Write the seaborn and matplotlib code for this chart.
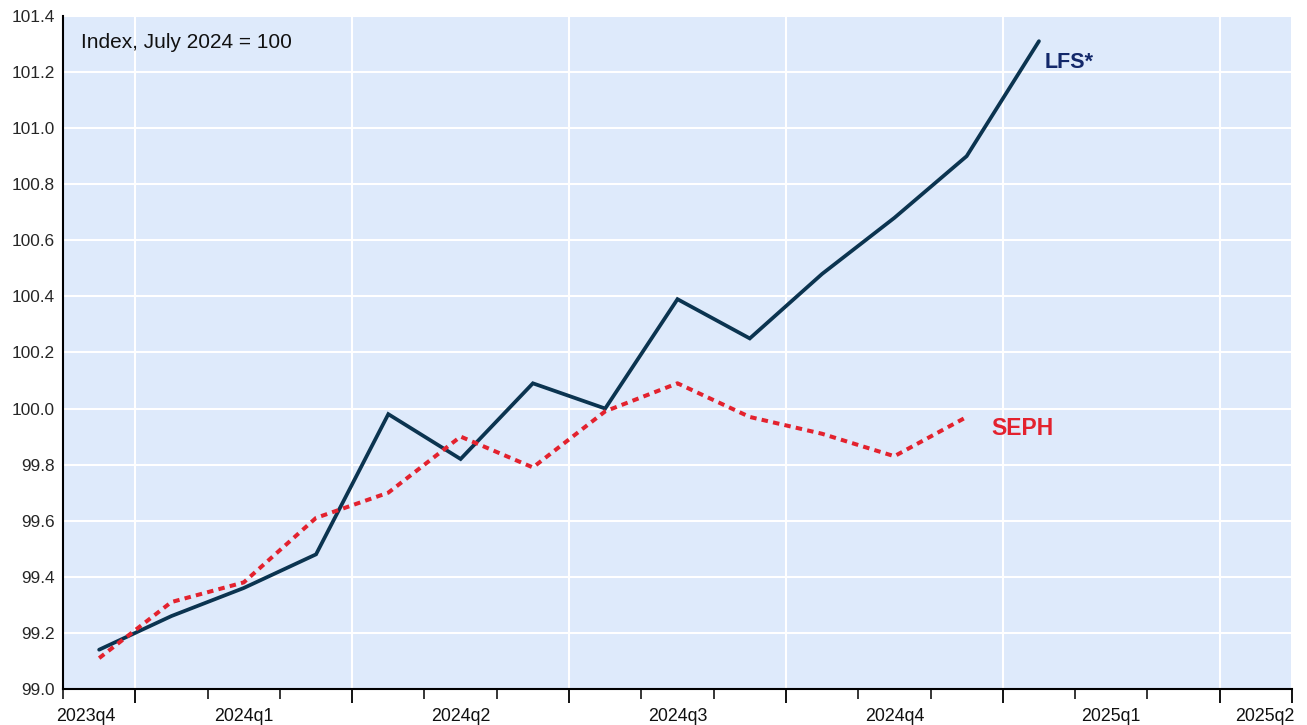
import numpy as np
import pandas as pd
import matplotlib
matplotlib.use("Agg")
import matplotlib.pyplot as plt
import matplotlib.transforms as mtransforms
import seaborn as sns

# ---------------------------------------------------------------
# Data (monthly, Dec 2023 .. Jan 2025), Index July 2024 = 100
# ---------------------------------------------------------------
months = ["2023-12", "2024-01", "2024-02", "2024-03", "2024-04", "2024-05",
          "2024-06", "2024-07", "2024-08", "2024-09", "2024-10", "2024-11",
          "2024-12", "2025-01"]
lfs = [99.14, 99.26, 99.36, 99.48, 99.98, 99.82, 100.09, 100.00,
       100.39, 100.25, 100.48, 100.68, 100.90, 101.31]
seph = [99.11, 99.31, 99.38, 99.61, 99.70, 99.90, 99.79, 99.99,
        100.09, 99.97, 99.91, 99.83, 99.97]

quarter_labels = ["2023q4", "2024q1", "2024q2", "2024q3", "2024q4", "2025q1", "2025q2"]
yticks = [99.0, 99.2, 99.4, 99.6, 99.8, 100.0, 100.2, 100.4, 100.6, 100.8,
          101.0, 101.2, 101.4]

LFS_COLOR = "#0b3450"
LFS_LABEL_COLOR = "#13286a"
SEPH_COLOR = "#e3222e"
BG = "#deeafb"

# month axis: 0 = start of Dec 2023, points drawn mid-month
origin = pd.Period("2023-12", freq="M")
def month_pos(m):
    return (pd.Period(m, freq="M") - origin).n + 0.5

df = pd.DataFrame({"month": months, "LFS*": lfs,
                   "SEPH": seph + [np.nan] * (len(lfs) - len(seph))})
df["x"] = [month_pos(m) for m in df["month"]]

sns.set_theme(style="white")
plt.rcParams["font.family"] = ["Liberation Sans", "DejaVu Sans"]

fig = plt.figure(figsize=(13.07, 7.25), dpi=100)
ax = fig.add_axes([0.0482, 0.0497, 0.9403, 0.9283])
ax.set_facecolor(BG)

sns.lineplot(data=df, x="x", y="LFS*", ax=ax, color=LFS_COLOR, lw=2.7,
             solid_joinstyle="miter")
d = df.dropna(subset=["SEPH"])
sns.lineplot(data=d, x="x", y="SEPH", ax=ax, color=SEPH_COLOR, lw=2.9)
seph_line = ax.get_lines()[-1]
seph_line.set_dashes((1.6, 1.3))
seph_line.set_dash_capstyle("butt")

# end labels
ax.annotate("LFS*", (df["x"].iloc[-1], df["LFS*"].iloc[-1]),
            xytext=(4, -15), textcoords="offset points", ha="left", va="center",
            color=LFS_LABEL_COLOR, fontsize=15.5, fontweight="bold")
ax.annotate("SEPH", (d["x"].iloc[-1], d["SEPH"].iloc[-1]),
            xytext=(18, -8), textcoords="offset points", ha="left", va="center",
            color=SEPH_COLOR, fontsize=16.5, fontweight="bold")

ax.text(0.015, 0.96, "Index, July 2024 = 100", transform=ax.transAxes,
        ha="left", va="center", fontsize=15, color="#111111")

# axes limits / grid
xmin, xmax = 0, 17
ax.set_xlim(xmin, xmax)
ax.set_ylim(99.0, 101.4)
ax.set_yticks(yticks)
ax.set_yticklabels([f"{v:.1f}" for v in yticks], fontsize=12.4)
ax.tick_params(axis="y", length=0, pad=6)

quarter_bounds = np.arange(1, 17, 3)  # Jan 2024, Apr 2024, ... Apr 2025
ax.set_xticks(np.r_[quarter_bounds, xmax])
ax.set_xticklabels([])
ax.set_xticks(np.arange(xmin, xmax + 1), minor=True)
ax.tick_params(axis="x", which="major", length=10, width=1.3, color="black",
               direction="out", bottom=True)
ax.tick_params(axis="x", which="minor", length=7, width=1.1, color="black",
               direction="out", bottom=True)

ax.grid(True, which="major", axis="both", color="white", lw=1.5)
ax.set_axisbelow(True)

# quarter labels centred in each quarter, kept inside the axis span
trans = mtransforms.blended_transform_factory(ax.transData, ax.transAxes)
starts = np.r_[quarter_bounds[0] - 3, quarter_bounds]
for lab, s in zip(quarter_labels, starts):
    c = min(max(s + 1.5, 0.32), 16.62)
    ax.text(c, -0.041, lab, transform=trans, ha="center", va="center",
            fontsize=12.8, color="#111111")

ax.set_xlabel("")
ax.set_ylabel("")
for side in ["top", "right"]:
    ax.spines[side].set_visible(False)
for side in ["left", "bottom"]:
    ax.spines[side].set_color("black")
    ax.spines[side].set_linewidth(1.5)

fig.savefig("out.png", dpi=100, facecolor="white")
